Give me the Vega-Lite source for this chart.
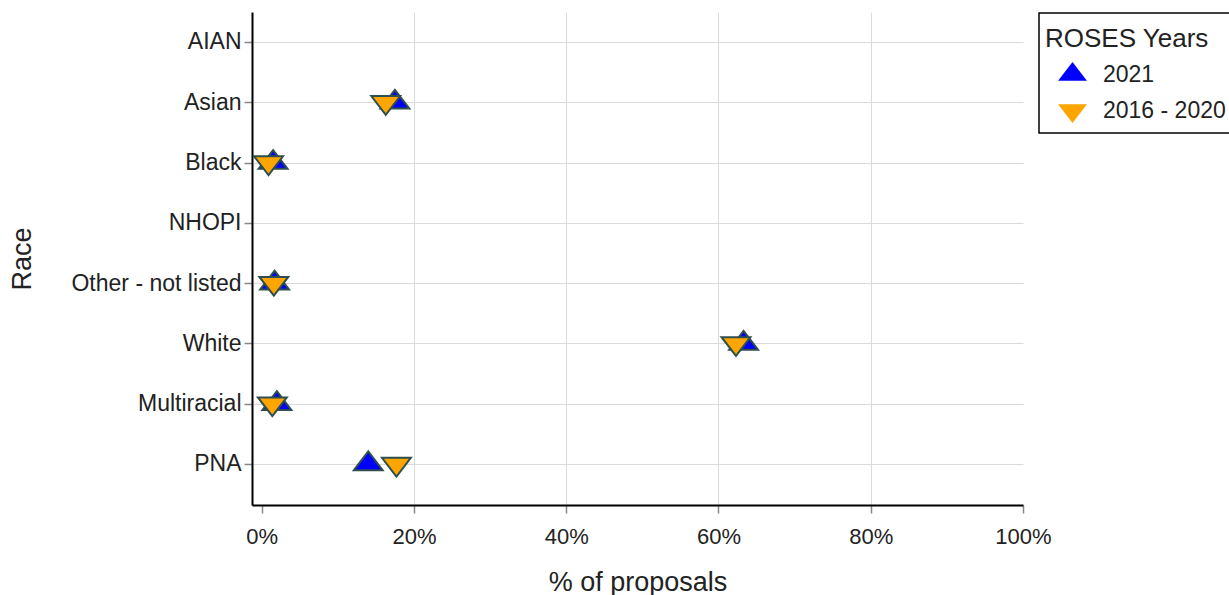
{
  "$schema": "https://vega.github.io/schema/vega-lite/v6.json",
  "autosize": {"type": "none"},
  "width": 771,
  "height": 493,
  "padding": {"left": 252, "top": 12, "right": 206, "bottom": 90},
  "background": "white",
  "data": {
    "values": [
      {"race": "Asian", "years": "2021", "share": 0.175},
      {"race": "Black", "years": "2021", "share": 0.015},
      {"race": "Other - not listed", "years": "2021", "share": 0.017},
      {"race": "White", "years": "2021", "share": 0.633},
      {"race": "Multiracial", "years": "2021", "share": 0.020},
      {"race": "PNA", "years": "2021", "share": 0.140},
      {"race": "Asian", "years": "2016 - 2020", "share": 0.163},
      {"race": "Black", "years": "2016 - 2020", "share": 0.009},
      {"race": "Other - not listed", "years": "2016 - 2020", "share": 0.016},
      {"race": "White", "years": "2016 - 2020", "share": 0.623},
      {"race": "Multiracial", "years": "2016 - 2020", "share": 0.014},
      {"race": "PNA", "years": "2016 - 2020", "share": 0.177}
    ]
  },
  "mark": {"type": "point", "filled": true, "opacity": 1, "size": 625, "stroke": "#2f4f4f", "strokeWidth": 2},
  "encoding": {
    "x": {
      "field": "share",
      "type": "quantitative",
      "title": "% of proposals",
      "scale": {"domain": [-0.0127, 1], "nice": false, "zero": false},
      "axis": {
        "values": [0, 0.2, 0.4, 0.6, 0.8, 1],
        "format": ".0%",
        "labelFlush": false,
        "labelFontSize": 22,
        "gridOpacity": {"condition": {"test": "datum.value == 0 || datum.value == 1", "value": 0}, "value": 1},
        "labelPadding": 13,
        "titlePadding": 22
      }
    },
    "y": {
      "field": "race",
      "type": "nominal",
      "title": "Race",
      "scale": {"type": "point", "domain": ["AIAN", "Asian", "Black", "NHOPI", "Other - not listed", "White", "Multiracial", "PNA"], "padding": 0.5889, "align": 0.4225},
      "axis": {"labelPadding": 3, "titlePadding": 34}
    },
    "fill": {
      "field": "years",
      "type": "nominal",
      "title": "ROSES Years",
      "scale": {"domain": ["2021", "2016 - 2020"], "range": ["#0000ff", "#ffa500"]}
    },
    "shape": {
      "field": "years",
      "type": "nominal",
      "title": "ROSES Years",
      "scale": {"domain": ["2021", "2016 - 2020"], "range": ["M-1.1547,0.5H1.1547L0,-1Z", "M-1.1547,-0.5H1.1547L0,1Z"]}
    }
  },
  "config": {
    "font": "Liberation Sans",
    "view": {"stroke": null},
    "axis": {
      "domainColor": "black",
      "domainWidth": 2,
      "gridColor": "#dadada",
      "gridWidth": 1,
      "tickColor": "#888888",
      "tickSize": 8,
      "tickWidth": 1.5,
      "labelFont": "Liberation Sans",
      "labelFontSize": 23,
      "labelColor": "#222222",
      "titleFont": "Liberation Sans",
      "titleFontSize": 27,
      "titleFontWeight": "normal",
      "titleColor": "#222222"
    },
    "axisY": {"grid": true},
    "legend": {
      "orient": "none",
      "legendX": 787,
      "legendY": 1,
      "strokeColor": "black",
      "strokeWidth": 1.5,
      "padding": 6,
      "titleFont": "Liberation Sans",
      "titleFontSize": 26,
      "titleFontWeight": "normal",
      "titleColor": "#222222",
      "titleBaseline": "line-top",
      "titleLineHeight": 40,
      "titlePadding": 16,
      "labelFont": "Liberation Sans",
      "labelFontSize": 23,
      "labelColor": "#222222",
      "labelOffset": 17,
      "symbolOffset": 14,
      "symbolSize": 625,
      "symbolStrokeColor": "#2f4f4f",
      "symbolStrokeWidth": 2,
      "symbolOpacity": 1,
      "rowPadding": 10
    }
  }
}
